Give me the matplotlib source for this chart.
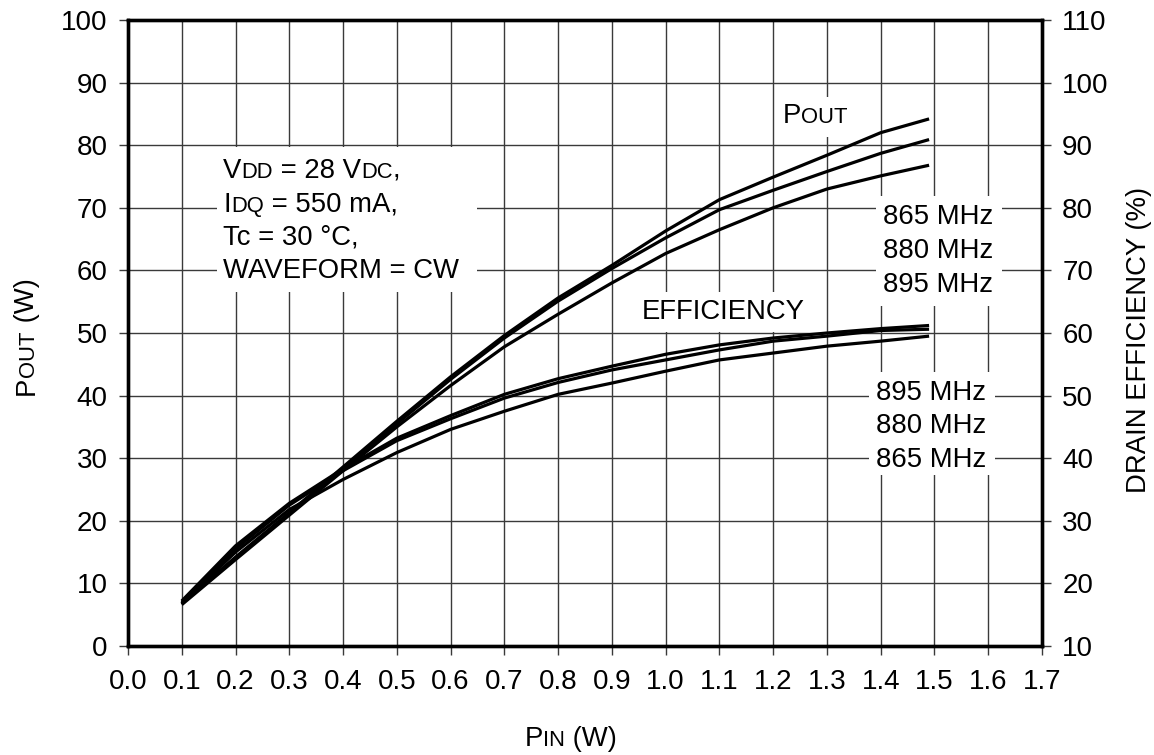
import matplotlib
matplotlib.use('Agg')
import matplotlib.pyplot as plt
from matplotlib.patches import Rectangle
from matplotlib.transforms import IdentityTransform
import numpy as np

plt.rcParams['font.family'] = ['Liberation Sans', 'DejaVu Sans']

# input power (W)
pin = [0.1, 0.2, 0.3, 0.4, 0.5, 0.6, 0.7, 0.8, 0.9, 1.0, 1.1, 1.2, 1.3, 1.4, 1.49]

# output power (W), left axis
pout_865 = [6.8, 14.2, 21.3, 28.6, 35.9, 43.0, 49.6, 55.6, 60.8, 66.3, 71.3, 74.9, 78.4, 82.0, 84.2]
pout_880 = [6.8, 14.0, 21.1, 28.3, 35.5, 42.6, 49.2, 55.1, 60.3, 65.2, 69.7, 72.8, 75.8, 78.7, 80.9]
pout_895 = [6.6, 13.8, 20.9, 28.0, 35.0, 41.6, 47.8, 53.0, 58.0, 62.7, 66.5, 70.0, 73.0, 75.1, 76.8]

# drain efficiency (%), right axis
eff_895 = [17.2, 26.0, 32.8, 38.3, 43.2, 46.8, 50.2, 52.7, 54.7, 56.6, 58.1, 59.2, 60.0, 60.7, 61.2]
eff_880 = [17.0, 25.5, 32.5, 38.0, 42.8, 46.3, 49.6, 52.1, 54.1, 55.7, 57.3, 58.7, 59.5, 60.4, 60.6]
eff_865 = [16.8, 25.0, 31.8, 36.6, 40.9, 44.6, 47.5, 50.2, 52.0, 53.9, 55.7, 56.8, 57.9, 58.7, 59.5]

xticks = np.round(np.arange(0, 1.71, 0.1), 1)
yticks_left = np.arange(0, 101, 10)
yticks_right = np.arange(10, 111, 10)

W, H = 1154, 755
fig = plt.figure(figsize=(W / 100, H / 100), dpi=100)
ax = fig.add_axes([128 / W, (H - 646) / H, (1042 - 128) / W, (646 - 20) / H])
ax2 = ax.twinx()

lw = 2.3
for ys in (pout_865, pout_880, pout_895):
    ax.plot(pin, ys, color='black', lw=lw, zorder=4, solid_joinstyle='round', solid_capstyle='butt')
for ys in (eff_895, eff_880, eff_865):
    ax2.plot(pin, ys, color='black', lw=lw, zorder=4, solid_joinstyle='round', solid_capstyle='butt')

ax.set_xlim(0, 1.7)
ax.set_ylim(0, 100)
ax2.set_ylim(10, 110)
ax.set_xticks(xticks)
ax.set_xticklabels(['%.1f' % v for v in xticks])
ax.set_yticks(yticks_left)
ax2.set_yticks(yticks_right)

ax.set_axisbelow(True)
ax.grid(True, color='#3a3a3a', lw=1.0)
for a in (ax, ax2):
    for s in a.spines.values():
        s.set_linewidth(2.4)
ax.tick_params(axis='both', direction='out', length=6.5, width=1.0, labelsize=20, color='#3a3a3a')
ax.tick_params(axis='x', pad=10)
ax.tick_params(axis='y', pad=8)
ax2.tick_params(axis='y', direction='out', length=6.5, width=1.0, labelsize=20, pad=8, color='#3a3a3a')

# white patches behind annotation texts
boxes = [(0.166, 56.5, 0.649, 79.7),
         (1.209, 81.3, 1.358, 87.7),
         (0.947, 50.2, 1.269, 56.5),
         (1.391, 54.3, 1.626, 71.9),
         (1.378, 27.3, 1.613, 43.8)]
for x0, y0, x1, y1 in boxes:
    ax.add_patch(Rectangle((x0, y0), x1 - x0, y1 - y0, facecolor='white', edgecolor='none', zorder=2))

renderer = fig.canvas.get_renderer()


def caps_text(x, y, parts, size, trans, rotation=0, center=False):
    px, py = trans.transform((x, y))
    texts, adv = [], 0.0
    for s, k in parts:
        t = fig.text(0, 0, s, fontsize=size * k, rotation=rotation, rotation_mode='anchor',
                     ha='left', va='baseline', transform=IdentityTransform(), zorder=6)
        bb = t.get_window_extent(renderer)
        texts.append((t, adv))
        adv += bb.height if rotation == 90 else bb.width
    shift = adv / 2 if center else 0
    for t, a in texts:
        if rotation == 90:
            t.set_position((px, py + a - shift))
        else:
            t.set_position((px + a - shift, py))


fs = 19.8
sc = 0.8
td = ax.transData
pix = IdentityTransform()

caps_text(0.177, 74.8, [('V', 1), ('DD', sc), (' = 28 V', 1), ('DC', sc), (',', 1)], fs, td)
caps_text(0.177, 69.4, [('I', 1), ('DQ', sc), (' = 550 mA,', 1)], fs, td)
caps_text(0.177, 64.1, [('Tc = 30 °C,', 1)], fs, td)
caps_text(0.177, 58.8, [('WAVEFORM = CW', 1)], fs, td)

caps_text(1.218, 83.5, [('P', 1), ('OUT', sc)], fs, td)
caps_text(0.956, 52.2, [('EFFICIENCY', 1)], fs, td)

for yy, s in zip([67.4, 62.0, 56.5], ['865 MHz', '880 MHz', '895 MHz']):
    caps_text(1.404, yy, [(s, 1)], fs, td)
for yy, s in zip([39.3, 34.0, 28.6], ['895 MHz', '880 MHz', '865 MHz']):
    caps_text(1.391, yy, [(s, 1)], fs, td)

# axis titles
caps_text(571, H - 746, [('P', 1), ('IN', sc), (' (W)', 1)], fs, pix, center=True)
caps_text(34, H - 337, [('P', 1), ('OUT', sc), (' (W)', 1)], fs, pix, rotation=90, center=True)
caps_text(1146, H - 340, [('DRAIN EFFICIENCY (%)', 1)], fs, pix, rotation=90, center=True)

fig.savefig('out.png', dpi=100)
